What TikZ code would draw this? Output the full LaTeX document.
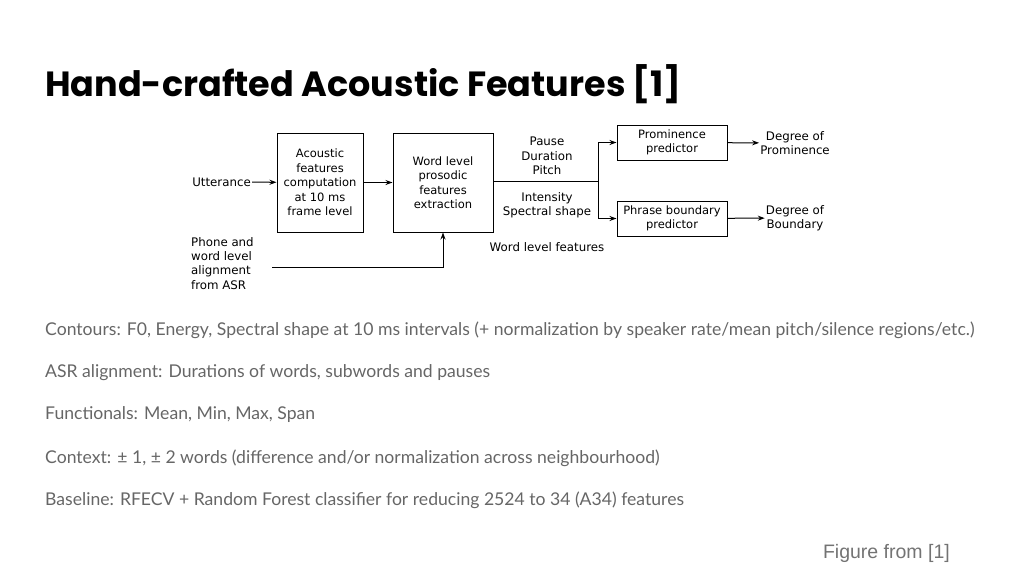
\documentclass[tikz,border=0pt]{standalone}
\usepackage{fontspec}
\setmainfont{Lato}
\newfontfamily\titlef{Poppins}
\newfontfamily\diagf{DejaVu Sans}
\newfontfamily\arialf{Liberation Sans}
\usetikzlibrary{arrows.meta}
\begin{document}
\begin{tikzpicture}[x=1pt,y=-1pt,
  box/.style={draw,line width=1pt,inner sep=0pt,align=center,font=\diagf\fontsize{11.5}{14.5}\selectfont},
  lab/.style={align=center,font=\diagf\fontsize{11.8}{14.3}\selectfont,inner sep=1pt},
  arr/.style={line width=1pt,-{Stealth[length=7pt,width=5pt]}},
  ln/.style={line width=1pt},
  body/.style={anchor=west,text=black!60,font=\fontsize{17.6}{20}\selectfont,inner sep=0pt}]
\useasboundingbox (0,0) rectangle (1024,576);
\node[anchor=west,inner sep=0pt,font=\titlef\bfseries\fontsize{35}{40}\selectfont] (title) at (45,84) {Hand-crafted Acoustic Features [1]};
\node[box,minimum width=86,minimum height=99] (ac) at (320,182.5) {Acoustic\\features\\computation\\at 10 ms\\frame level};
\node[box,minimum width=100,minimum height=99] (wl) at (443,182.5) {Word level\\prosodic\\features\\extraction};
\node[box,minimum width=110,minimum height=35] (pp) at (672,142.5) {Prominence\\predictor};
\node[box,minimum width=110,minimum height=35] (pb) at (672,218.5) {Phrase boundary\\predictor};
\node[lab,anchor=east] (utt) at (252,182) {Utterance};
\node[lab,anchor=north west,align=left] (ph) at (190,236) {Phone and\\word level\\alignment\\from ASR};
\node[lab] (dp) at (795,143) {Degree of\\Prominence};
\node[lab] (db) at (795,218) {Degree of\\Boundary};
\node[lab] (pdp) at (547,156) {Pause\\Duration\\Pitch};
\node[lab] (iss) at (547,205) {Intensity\\Spectral shape};
\node[lab] (wlf) at (547,247) {Word level features};
\coordinate (sp) at (598,181);
\coordinate (al) at (272,267);
\draw[arr] (utt) -- (ac);
\draw[arr] (ac) -- (wl);
\draw[ln] (wl.east |- sp) -- (sp);
\draw[arr] (sp) |- (pp.west);
\draw[arr] (sp) |- (pb.west);
\draw[arr] (pp) -- (dp);
\draw[arr] (pb) -- (db);
\draw[arr] (al) -| (wl.south);
\node[body] (t1) at (45,330) {Contours: F0, Energy, Spectral shape at 10 ms intervals (+ normalization by speaker rate/mean pitch/silence regions/etc.)};
\node[body] (t2) at (45,373) {ASR alignment: Durations of words, subwords and pauses};
\node[body] (t3) at (45,415) {Functionals: Mean, Min, Max, Span};
\node[body] (t4) at (45,458) {Context: ± 1, ± 2 words (difference and/or normalization across neighbourhood)};
\node[body] (t5) at (45,500) {Baseline: RFECV + Random Forest classifier for reducing 2524 to 34 (A34) features};
\node[anchor=east,inner sep=0pt,text=black!55,font=\arialf\fontsize{19.5}{22}\selectfont] (fig) at (950,553) {Figure from [1]};
\end{tikzpicture}
\end{document}
